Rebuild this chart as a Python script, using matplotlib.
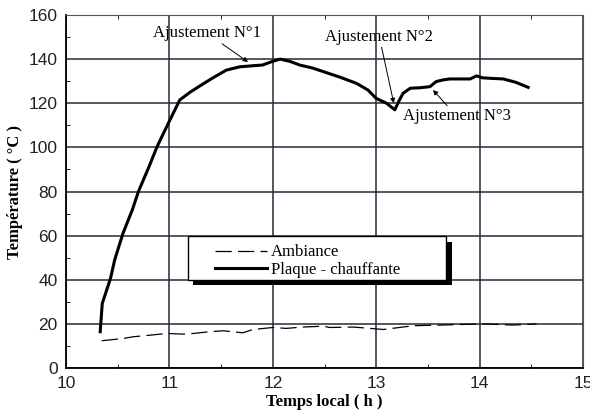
import numpy as np
import matplotlib
matplotlib.use("Agg")
import matplotlib.pyplot as plt
from matplotlib.patches import Rectangle
from matplotlib.ticker import MultipleLocator

# Plaque chauffante (heure locale, temperature en degC)
t_plaque = [10.33, 10.35, 10.43, 10.47, 10.55, 10.64, 10.70, 10.80, 10.88, 10.99,
            11.10, 11.20, 11.30, 11.42, 11.55, 11.68, 11.81, 11.90, 12.00, 12.07,
            12.17, 12.26, 12.38, 12.49, 12.65, 12.81, 12.92, 13.00, 13.10, 13.18,
            13.22, 13.26, 13.33, 13.42, 13.52, 13.58, 13.64, 13.71, 13.80, 13.91,
            13.97, 14.03, 14.10, 14.23, 14.35, 14.47]
T_plaque = [16.5, 29.3, 40.7, 49.0, 61.0, 71.6, 80.0, 91.0, 100.3, 111.0,
            121.5, 125.0, 128.0, 131.5, 135.0, 136.5, 137.0, 137.3, 139.0, 140.0,
            138.9, 137.3, 136.0, 134.3, 131.8, 129.0, 126.0, 122.2, 120.0, 117.0,
            121.0, 124.5, 126.8, 127.0, 127.5, 129.8, 130.5, 131.0, 131.0, 131.0,
            132.4, 131.5, 131.3, 131.0, 129.5, 127.2]

# Ambiance
t_amb = [10.345, 10.55, 10.65, 10.83, 10.97, 11.13, 11.23, 11.39, 11.52, 11.71,
         11.81, 12.00, 12.13, 12.29, 12.49, 12.55, 12.78, 13.07, 13.36, 13.62,
         13.84, 14.07, 14.32, 14.55]
T_amb = [12.4, 13.4, 14.2, 15.0, 15.7, 15.4, 15.7, 16.5, 16.9, 16.0,
         17.5, 18.4, 18.0, 18.6, 19.0, 18.4, 18.6, 17.5, 19.2, 19.5,
         19.8, 20.0, 19.5, 20.0]

serif = "Liberation Serif"
sans = "Liberation Sans"

fig = plt.figure(figsize=(5.9, 4.15), dpi=100)
ax = fig.add_axes([0.112, 0.113, 0.876, 0.851])

ax.plot(t_amb, T_amb, color="black", lw=0.9, dashes=(13, 5), label="Ambiance", zorder=3)
ax.plot(t_plaque, T_plaque, color="black", lw=2.2, label="Plaque - chauffante", zorder=3)

ax.set_xlim(10, 15)
ax.set_ylim(0, 160)
ax.xaxis.set_major_locator(MultipleLocator(1))
ax.xaxis.set_minor_locator(MultipleLocator(0.5))
ax.yaxis.set_major_locator(MultipleLocator(20))
ax.yaxis.set_minor_locator(MultipleLocator(10))
ax.grid(True, which="major", color="#2a2a3a", lw=1.1, zorder=1)
ax.tick_params(which="both", direction="in", top=True, right=False)
ax.tick_params(which="major", length=0, pad=6, labelsize=12.5, labelcolor="#222222")
ax.tick_params(which="minor", length=3)
for lab in ax.get_xticklabels() + ax.get_yticklabels():
    lab.set_fontfamily(sans)

for side in ["left", "bottom"]:
    ax.spines[side].set_linewidth(1.3)
for side in ["top", "right"]:
    ax.spines[side].set_color("#555555")

ax.set_xlabel("Temps local ( h )", fontfamily=serif, fontweight="bold", fontsize=12, labelpad=2)
ax.set_ylabel("Température ( °C )", fontfamily=serif, fontweight="bold", fontsize=12, labelpad=4)

# legende avec ombre
ax.add_patch(Rectangle((11.23, 37.6), 2.5, 19.7, facecolor="black", edgecolor="none", zorder=4))
ax.add_patch(Rectangle((11.18, 40.0), 2.495, 20.0, facecolor="white", edgecolor="black", lw=1, zorder=5))
leg = ax.legend(loc="upper left", bbox_to_anchor=(11.36, 59.8), bbox_transform=ax.transData,
                frameon=False, handlelength=3.1, handletextpad=0.25, labelspacing=0.1,
                borderpad=0, prop={"family": serif, "size": 12})
leg.set_zorder(6)

arrow = dict(arrowstyle="-|>", color="black", lw=0.7, mutation_scale=7, shrinkA=0, shrinkB=0)
ax.annotate("Ajustement N°1", xy=(11.76, 138.7), xytext=(11.36, 151.8), ha="center", va="center",
            fontfamily=serif, fontsize=12, arrowprops=arrow, zorder=6)
ax.annotate("Ajustement N°2", xy=(13.17, 120.0), xytext=(13.03, 150.2), ha="center", va="center",
            fontfamily=serif, fontsize=12, arrowprops=arrow, zorder=6)
ax.annotate("Ajustement N°3", xy=(13.55, 126.0), xytext=(13.78, 114.0), ha="center", va="center",
            fontfamily=serif, fontsize=12, arrowprops=arrow, zorder=6)

fig.savefig("out.png", dpi=100)
